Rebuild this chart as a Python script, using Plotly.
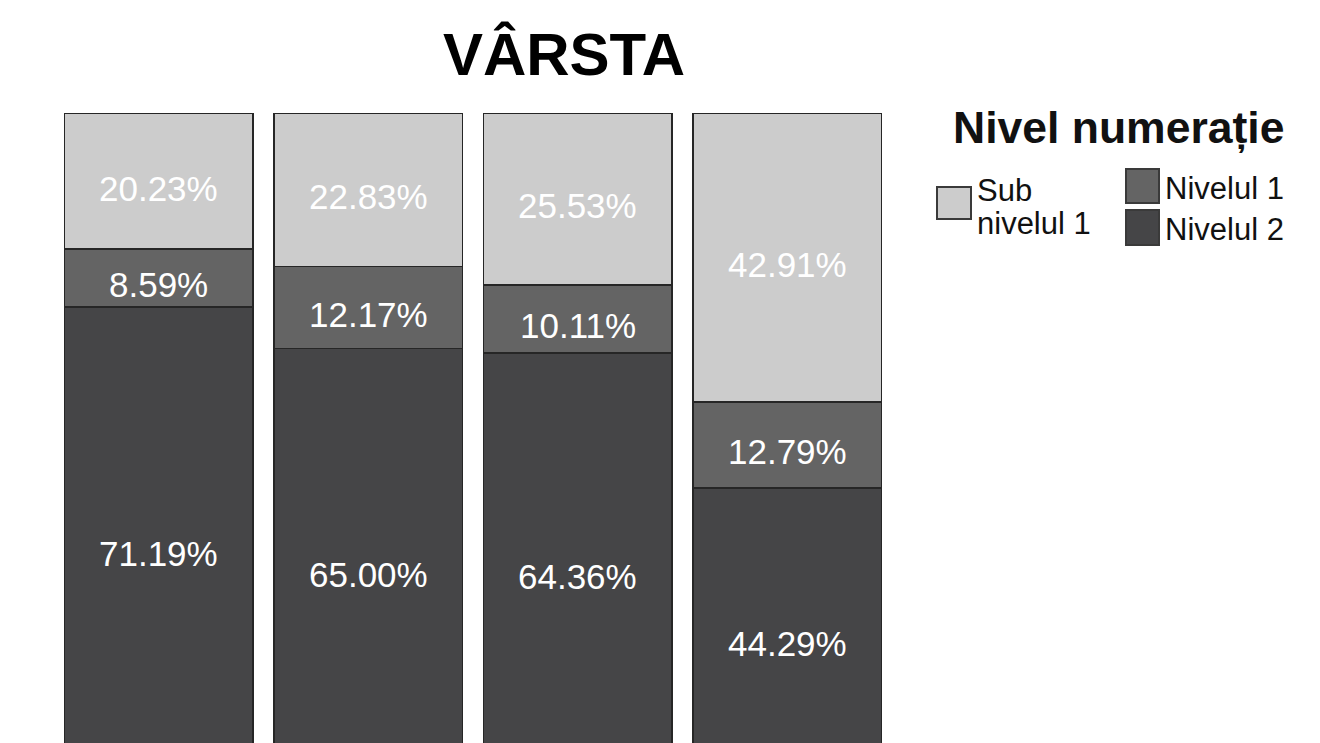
import plotly.graph_objects as go

# ---- data ----
categories = ["Grupa 1", "Grupa 2", "Grupa 3", "Grupa 4"]
nivelul_2 = [71.19, 65.00, 64.36, 44.29]
nivelul_1 = [8.59, 12.17, 10.11, 12.79]
sub_nivelul_1 = [20.23, 22.83, 25.53, 42.91]
series_names = ["Nivelul 2", "Nivelul 1", "Sub nivelul 1"]
chart_title = "VÂRSTA"
legend_title = "Nivel numerație"

# ---- styles ----
COLORS = {"Nivelul 2": "#454547", "Nivelul 1": "#646464", "Sub nivelul 1": "#cccccc"}
FONT = "Liberation Sans, Arial, sans-serif"
W, H = 1320, 743
ML, MR, MT, MB = 54, 428, 113, 0
PW, PH = W - ML - MR, H - MT - MB
PX_PER_PCT = 673.0  # pixels for 100 %


def px(x):
    return (x - ML) / PW


def py(y):
    return (H - MB - y) / PH


series_values = [nivelul_2, nivelul_1, sub_nivelul_1]

fig = go.Figure()
for name, vals in zip(series_names, series_values):
    fig.add_trace(go.Bar(
        x=categories, y=vals, name=name,
        marker=dict(color=COLORS[name], line=dict(color="#262626", width=1.5)),
        showlegend=False, hoverinfo="skip",
    ))

# value labels placed at the middle of each stacked segment (data coordinates)
base = [0.0] * len(categories)
for vals in series_values:
    for i, (cat, v) in enumerate(zip(categories, vals)):
        fig.add_annotation(x=cat, y=base[i] + v / 2, xref="x", yref="y",
                           text=f"{v:.2f}%", showarrow=False, yshift=-7,
                           font=dict(family=FONT, size=35, color="white"))
        base[i] += v

ymin = 100 - 100 * PH / PX_PER_PCT

fig.update_layout(
    width=W, height=H, barmode="stack", bargap=0.1,
    margin=dict(l=ML, r=MR, t=MT, b=MB),
    paper_bgcolor="white", plot_bgcolor="white",
    xaxis=dict(visible=False),
    yaxis=dict(visible=False, range=[ymin, 100]),
    title=dict(text="<b>" + chart_title + "</b>", x=564 / W, y=1 - 54 / H,
               xanchor="center", yanchor="middle", xref="container", yref="container",
               font=dict(family=FONT, size=60, color="black")),
)

# ---- custom legend (large square swatches, two columns) ----
shapes = []
for (x0, y0, x1, y1), name in [((937, 187, 971, 219), "Sub nivelul 1"),
                                ((1126, 169, 1159, 203), "Nivelul 1"),
                                ((1126, 210, 1159, 245), "Nivelul 2")]:
    shapes.append(dict(type="rect", xref="paper", yref="paper",
                       x0=px(x0), x1=px(x1), y0=py(y1), y1=py(y0),
                       fillcolor=COLORS[name], line=dict(color="#3a3a3a", width=2)))
fig.update_layout(shapes=shapes)

annots = [
    dict(text="<b>" + legend_title + "</b>", x=px(1118), y=py(128), xanchor="center", size=44.5),
    dict(text="Sub", x=px(975), y=py(190), xanchor="left", size=31),
    dict(text="nivelul 1", x=px(975), y=py(223), xanchor="left", size=31),
    dict(text="Nivelul 1", x=px(1163), y=py(188), xanchor="left", size=31),
    dict(text="Nivelul 2", x=px(1163), y=py(229), xanchor="left", size=31),
]
for a in annots:
    fig.add_annotation(text=a["text"], x=a["x"], y=a["y"], xref="paper", yref="paper",
                       xanchor=a["xanchor"], yanchor="middle", showarrow=False,
                       font=dict(family=FONT, size=a["size"], color="#111111"))

fig.write_html("out.html")
